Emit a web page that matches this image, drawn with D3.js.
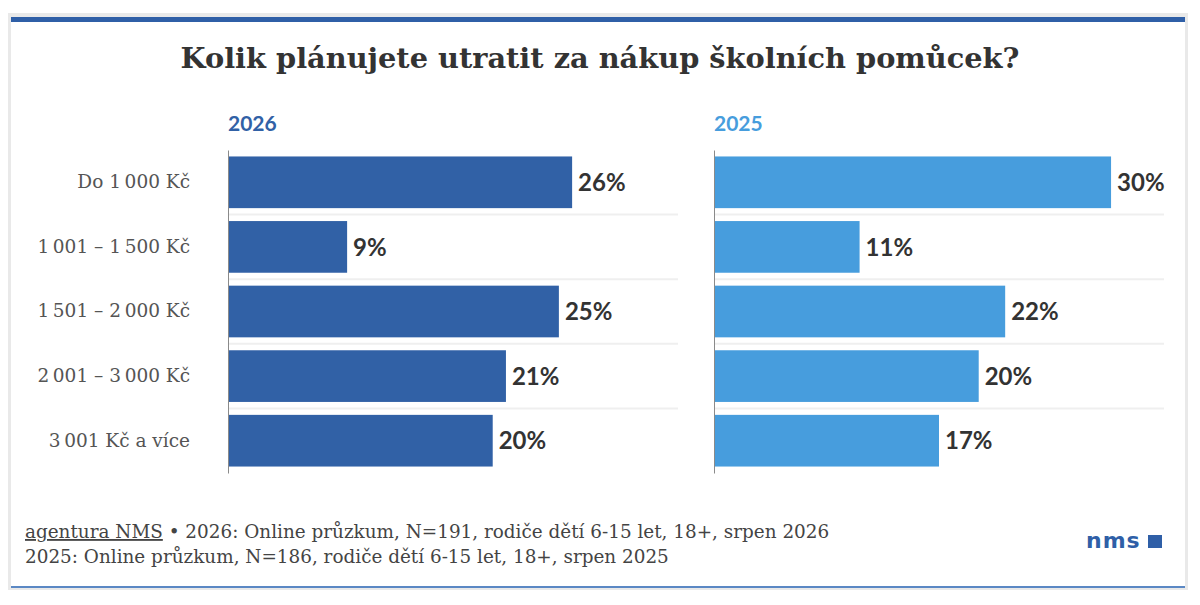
<!DOCTYPE html>
<html>
<head>
<meta charset="utf-8">
<script src="https://cdn.jsdelivr.net/npm/d3@7"></script>
<style>
  html, body { margin: 0; padding: 0; background: #fff; }
  svg { display: block; }
</style>
</head>
<body>
<div id="chart"></div>
<script>
// data
const categories = ['Do 1\u2009000 Kč', '1\u2009001 – 1\u2009500 Kč', '1\u2009501 – 2\u2009000 Kč', '2\u2009001 – 3\u2009000 Kč', '3\u2009001 Kč a více'];
const years = ['2026', '2025'];
const values2026 = [26, 9, 25, 21, 20];
const values2025 = [30, 11, 22, 20, 17];
const title = 'Kolik plánujete utratit za nákup školních pomůcek?';
const sourceLink = 'agentura NMS';
const sourceLine1 = ' • 2026: Online průzkum, N=191, rodiče dětí 6-15 let, 18+, srpen 2026';
const sourceLine2 = '2025: Online průzkum, N=186, rodiče dětí 6-15 let, 18+, srpen 2025';

const W = 1200, H = 605;
const serif = '"DejaVu Serif", serif';
const sans = 'Lato, "Open Sans", sans-serif';

const svg = d3.select('#chart').append('svg').attr('width', W).attr('height', H);

// card frame
svg.append('rect').attr('x', 8).attr('y', 13).attr('width', 1180).attr('height', 577).attr('fill', '#e9e9e9');
svg.append('rect').attr('x', 11).attr('y', 17).attr('width', 1174).attr('height', 571).attr('fill', '#fff');
svg.append('rect').attr('x', 11).attr('y', 17).attr('width', 1174).attr('height', 5).attr('fill', '#2f5fa7');
svg.append('rect').attr('x', 11).attr('y', 586).attr('width', 1174).attr('height', 2).attr('fill', '#5b88c4');

svg.append('text')
  .attr('x', 600).attr('y', 68)
  .attr('text-anchor', 'middle')
  .attr('font-family', serif).attr('font-weight', 700).attr('font-size', 28.8)
  .attr('fill', '#333')
  .text(title);

const x = d3.scaleLinear().domain([0, 34]).range([0, 450]);
const y = d3.scaleBand().domain(categories).range([150, 473]).paddingInner(0.2).paddingOuter(0.1);

function panel(left, values, year, color, withLabels) {
  const g = svg.append('g').attr('transform', `translate(${left},0)`);

  g.append('text')
    .attr('x', 0).attr('y', 131)
    .attr('font-family', sans).attr('font-weight', 700).attr('font-size', 21)
    .attr('fill', color)
    .text(year);

  // separators between rows
  g.selectAll('line.sep').data(categories.slice(1)).join('line')
    .attr('class', 'sep')
    .attr('x1', 0).attr('x2', x.range()[1])
    .attr('y1', d => y(d) - y.step() * y.paddingInner() / 2)
    .attr('y2', d => y(d) - y.step() * y.paddingInner() / 2)
    .attr('stroke', '#efefef').attr('stroke-width', 2);

  g.selectAll('rect.bar').data(values).join('rect')
    .attr('class', 'bar')
    .attr('x', 0)
    .attr('y', (d, i) => y(categories[i]))
    .attr('width', d => x(d))
    .attr('height', y.bandwidth())
    .attr('fill', color);

  g.selectAll('text.val').data(values).join('text')
    .attr('class', 'val')
    .attr('x', d => x(d) + 6)
    .attr('y', (d, i) => y(categories[i]) + y.bandwidth() / 2)
    .attr('dy', '0.36em')
    .attr('font-family', sans).attr('font-weight', 700).attr('font-size', 24)
    .attr('fill', '#333')
    .text(d => d + '%');

  const axis = d3.axisLeft(y).tickSize(0).tickPadding(38);
  if (!withLabels) axis.tickFormat('');
  const ag = g.append('g').call(axis);
  ag.select('.domain').attr('stroke', '#8a8a8a').attr('stroke-width', 1);
  ag.selectAll('text')
    .attr('font-family', serif).attr('font-size', 18.5).attr('fill', '#555');
}

panel(228, values2026, years[0], '#3161a6', true);
panel(714, values2025, years[1], '#479ddd', false);

// footer
const foot = svg.append('g').attr('font-family', serif).attr('font-size', 18.4).attr('fill', '#444');
const l1 = foot.append('text').attr('x', 25).attr('y', 538);
l1.append('tspan').attr('text-decoration', 'underline').text(sourceLink);
l1.append('tspan').text(sourceLine1);
foot.append('text').attr('x', 25).attr('y', 563).text(sourceLine2);

// nms logo
svg.append('text')
  .attr('x', 1086).attr('y', 548)
  .attr('font-family', '"DejaVu Sans", sans-serif').attr('font-weight', 700).attr('font-size', 22)
  .attr('letter-spacing', 1)
  .attr('fill', '#2f5fa7')
  .text('nms');
svg.append('rect').attr('x', 1148).attr('y', 535).attr('width', 14).attr('height', 13).attr('fill', '#2f5fa7');
</script>
</body>
</html>
